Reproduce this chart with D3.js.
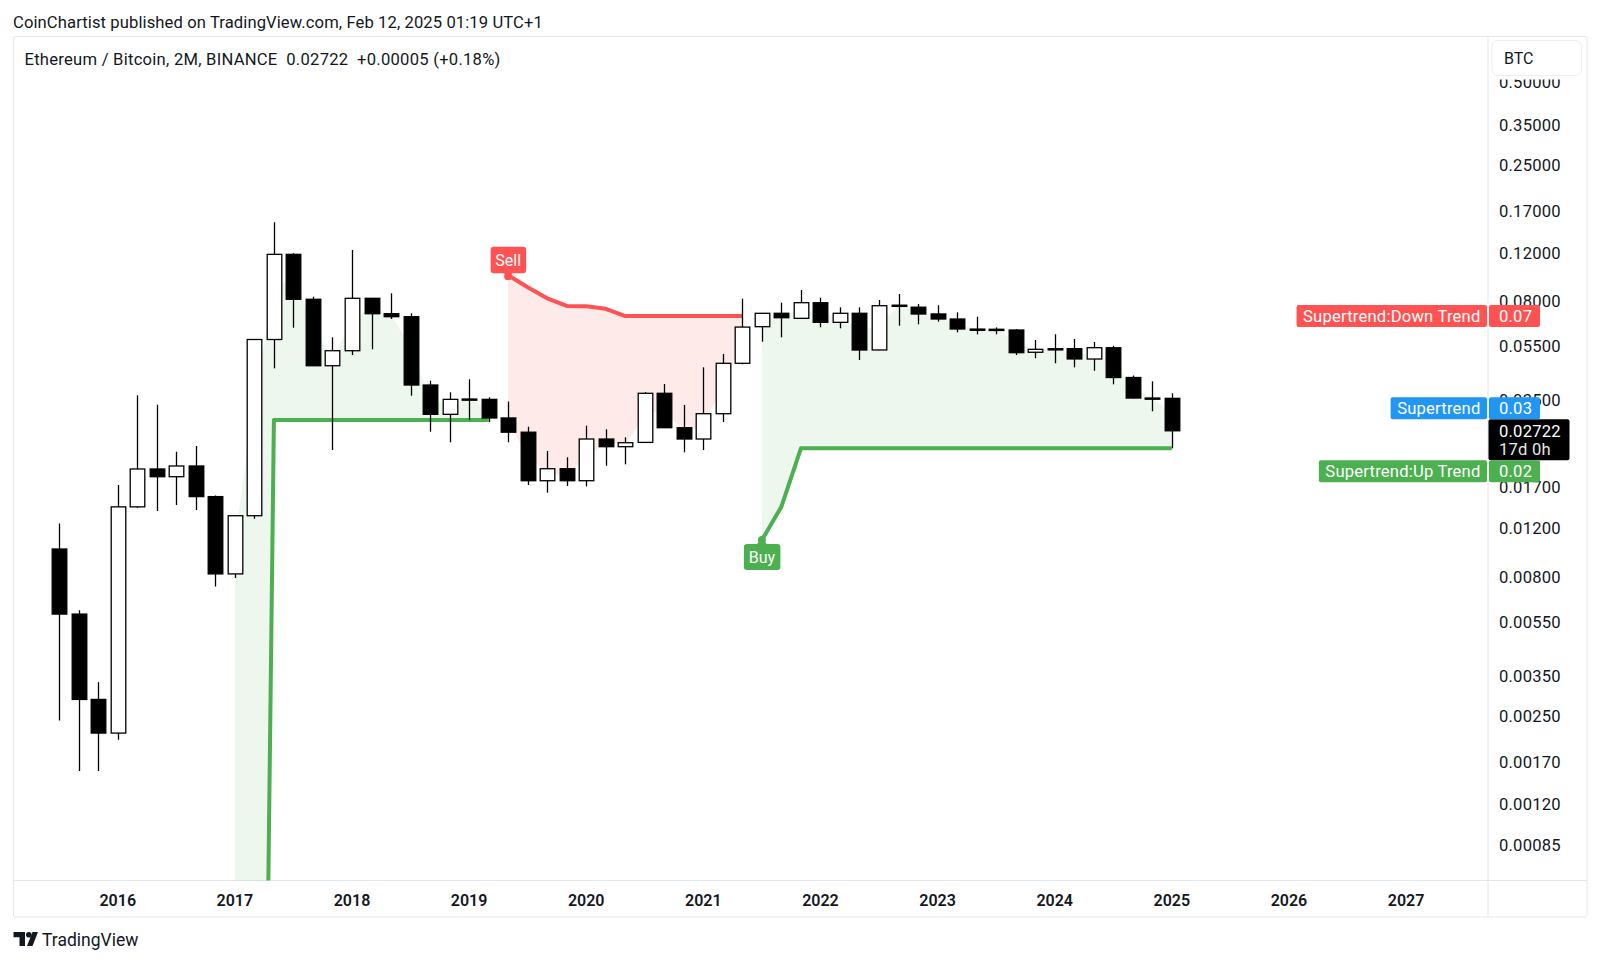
<!DOCTYPE html>
<html><head><meta charset="utf-8">
<script src="https://cdn.jsdelivr.net/npm/d3@7"></script>
<style>
html,body{margin:0;padding:0;background:#fff;}
svg{display:block;font-family:Roboto,"Noto Sans",sans-serif;}
</style></head><body>
<svg id="chart" width="1600" height="963"></svg>
<script>
// ---------- DATA (ETH/BTC 2M bars) ----------
const months = [
 "2015-07","2015-09","2015-11",
 "2016-01","2016-03","2016-05","2016-07","2016-09","2016-11",
 "2017-01","2017-03","2017-05","2017-07","2017-09","2017-11",
 "2018-01","2018-03","2018-05","2018-07","2018-09","2018-11",
 "2019-01","2019-03","2019-05","2019-07","2019-09","2019-11",
 "2020-01","2020-03","2020-05","2020-07","2020-09","2020-11",
 "2021-01","2021-03","2021-05","2021-07","2021-09","2021-11",
 "2022-01","2022-03","2022-05","2022-07","2022-09","2022-11",
 "2023-01","2023-03","2023-05","2023-07","2023-09","2023-11",
 "2024-01","2024-03","2024-05","2024-07","2024-09","2024-11",
 "2025-01"];
const opens = [0.01013,0.005879,0.00288,
 0.002174,0.01441,0.01978,0.01854,0.02028,0.0157,
 0.008227,0.01338,0.05839,0.1190,0.08173,0.04689,
 0.05316,0.08241,0.07244,0.07065,0.03991,0.03124,
 0.0354,0.0354,0.0303,0.0269,0.01793,0.01982,
 0.01793,0.02541,0.02383,0.0247,0.03724,0.02793,
 0.02541,0.0314,0.04786,0.065,0.0727,0.0697,
 0.0794,0.0674,0.0727,0.0535,0.0775,0.0765,
 0.0723,0.0693,0.0637,0.0636,0.06321,0.05248,
 0.0538,0.0541,0.0496,0.0545,0.0425,0.0358,
 0.0357];
const highs = [0.01255,0.006067,0.003327,
 0.01729,0.03665,0.03386,0.02284,0.02395,0.01586,
 0.0134,0.0585,0.1555,0.1201,0.08351,0.05948,
 0.1234,0.0826,0.08593,0.07269,0.04137,0.03755,
 0.04186,0.036,0.03476,0.02816,0.02299,0.02182,
 0.0284,0.02756,0.02577,0.0376,0.04025,0.03378,
 0.04627,0.05171,0.08213,0.0728,0.07943,0.08833,
 0.08283,0.07642,0.0764,0.08124,0.08542,0.07856,
 0.0778,0.07329,0.07065,0.0646,0.0637,0.05815,
 0.061,0.05863,0.05719,0.05543,0.04321,0.04117,
 0.03724];
const lows = [0.002415,0.001583,0.001583,
 0.002058,0.0143,0.01391,0.01463,0.01404,0.007404,
 0.007943,0.01304,0.04588,0.06445,0.0468,0.02318,
 0.05129,0.05379,0.0693,0.0365,0.02701,0.02472,
 0.02979,0.0293,0.02472,0.0173,0.01622,0.01716,
 0.0171,0.02033,0.02057,0.0246,0.0279,0.02274,
 0.02318,0.0293,0.04746,0.05734,0.05948,0.0693,
 0.06467,0.06412,0.0492,0.0534,0.06554,0.06632,
 0.06776,0.062,0.06097,0.061,0.05129,0.04991,
 0.04786,0.04627,0.04497,0.04014,0.0357,0.03204,
 0.02351];
const closes = [0.005879,0.00288,0.002174,
 0.01441,0.01978,0.01854,0.02028,0.0157,0.008227,
 0.01338,0.05839,0.1190,0.08173,0.04689,0.05316,
 0.08241,0.07244,0.07065,0.03991,0.03124,0.0354,
 0.0355,0.0303,0.0269,0.01793,0.01982,0.01793,
 0.02541,0.02383,0.02464,0.03724,0.02793,0.02541,
 0.0314,0.04786,0.06478,0.07269,0.07006,0.07943,
 0.06742,0.0727,0.05348,0.07745,0.0778,0.07226,
 0.0693,0.06374,0.0636,0.0635,0.0523,0.05379,
 0.05406,0.04962,0.05452,0.04249,0.03579,0.0357,
 0.02722];
// Supertrend lines (null = not active); the first up-trend starts far below the visible scale
const upTrend = [null,null,null,
 null,null,null,null,null,null,
 0.00000004,0.00000004,0.0298,0.0298,0.0298,0.0298,
 0.0298,0.0298,0.0298,0.0298,0.0298,0.0298,
 0.0298,0.0298,null,null,null,null,
 null,null,null,null,null,null,
 null,null,null,0.01092,0.01443,0.0235,
 0.0235,0.0235,0.0235,0.0235,0.0235,0.0235,
 0.0235,0.0235,0.0235,0.0235,0.0235,0.0235,
 0.0235,0.0235,0.0235,0.0235,0.0235,0.0235,
 0.0235];
const downTrend = [null,null,null,
 null,null,null,null,null,null,
 null,null,null,null,null,null,
 null,null,null,null,null,null,
 null,null,0.1,0.0904,0.0824,0.0773,
 0.0771,0.0755,0.0710,0.0710,0.0710,0.0710,
 0.0710,0.0710,0.0710,null,null,null,
 null,null,null,null,null,null,
 null,null,null,null,null,null,
 null,null,null,null,null,null,
 null];
const yTickValues = [0.5,0.35,0.25,0.17,0.12,0.08,0.055,0.035,0.017,0.012,0.008,0.0055,0.0035,0.0025,0.0017,0.0012,0.00085];
const yearLabels = ["2016","2017","2018","2019","2020","2021","2022","2023","2024","2025","2026","2027"];
const headerText = "CoinChartist published on TradingView.com, Feb 12, 2025 01:19 UTC+1";
const legendText = "Ethereum / Bitcoin, 2M, BINANCE  0.02722  +0.00005 (+0.18%)";
const countdown = "17d 0h";

// ---------- LAYOUT ----------
const paneL = 13.5, paneR = 1488, paneT = 37, paneB = 880.5, outerR = 1587, outerB = 917;
const GREEN = "#4caf50", RED = "#ff5252", BLUE = "#2196f3", INK = "#131722";

const svg = d3.select("#chart");
const x = d3.scaleLinear().domain([0, months.length - 1]).range([59.2, 1171.8]);
const y = d3.scaleLog().domain([0.5, 0.00085]).range([82.65, 845.4]);

const data = months.map((m, i) => ({i, m, o: opens[i], h: highs[i], l: lows[i], c: closes[i],
  up: upTrend[i], dn: downTrend[i], mid: (opens[i] + closes[i]) / 2}));

// header
svg.append("text").attr("x", 13).attr("y", 22.5).attr("dominant-baseline", "central")
  .attr("font-size", 16.6).attr("letter-spacing", 0.1).attr("fill", INK).text(headerText);

// frame
const frame = svg.append("g").attr("fill", "none").attr("stroke", "#e3e6ec").attr("stroke-width", 1);
frame.append("rect").attr("x", 13.5).attr("y", 36.5).attr("width", outerR - 13.5).attr("height", outerB - 36.5).attr("rx", 2);
frame.append("line").attr("x1", 13.5).attr("x2", outerR).attr("y1", paneB).attr("y2", paneB);
frame.append("line").attr("x1", paneR).attr("x2", paneR).attr("y1", 36.5).attr("y2", outerB);

// clip
svg.append("defs").append("clipPath").attr("id", "pane").append("rect")
  .attr("x", paneL).attr("y", paneT).attr("width", paneR - paneL).attr("height", paneB - paneT);
const plot = svg.append("g").attr("clip-path", "url(#pane)");

// fills between trend line and body middle
const upArea = d3.area().defined(d => d.up != null).x(d => x(d.i)).y0(d => y(d.up)).y1(d => y(d.mid));
const dnArea = d3.area().defined(d => d.dn != null).x(d => x(d.i)).y0(d => y(d.dn)).y1(d => y(d.mid));
plot.append("path").attr("d", upArea(data)).attr("fill", GREEN).attr("fill-opacity", 0.1);
plot.append("path").attr("d", dnArea(data)).attr("fill", RED).attr("fill-opacity", 0.12);

// trend lines
const upLine = d3.line().defined(d => d.up != null).x(d => x(d.i)).y(d => y(d.up));
const dnLine = d3.line().defined(d => d.dn != null).x(d => x(d.i)).y(d => y(d.dn));
plot.append("path").attr("d", upLine(data)).attr("fill", "none").attr("stroke", GREEN)
  .attr("stroke-width", 4).attr("stroke-linejoin", "round");
plot.append("path").attr("d", dnLine(data)).attr("fill", "none").attr("stroke", RED)
  .attr("stroke-width", 4).attr("stroke-linejoin", "round");

// candles
const bw = 14.6;
const cg = plot.append("g");
data.forEach(d => {
  const cx = Math.round(x(d.i)) + 0.5;
  cg.append("line").attr("x1", cx).attr("x2", cx).attr("y1", y(d.h)).attr("y2", y(d.l))
    .attr("stroke", "#000").attr("stroke-width", 1.3);
  const top = y(Math.max(d.o, d.c)), bot = y(Math.min(d.o, d.c));
  cg.append("rect").attr("x", cx - bw / 2).attr("y", top).attr("width", bw)
    .attr("height", Math.max(bot - top, 1.2))
    .attr("fill", d.c >= d.o ? "#fff" : "#000").attr("stroke", "#000").attr("stroke-width", 1.3);
});

// buy / sell signals at trend changes
const sig = plot.append("g").attr("font-size", 16);
data.forEach((d, k) => {
  if (k === 0) return;
  const p = data[k - 1];
  if (d.up != null && p.dn != null) {            // Buy
    const px = x(d.i), py = y(d.up);
    sig.append("circle").attr("cx", px).attr("cy", py).attr("r", 4).attr("fill", GREEN);
    sig.append("path").attr("d", `M${px-5},${py+4} L${px},${py-1} L${px+5},${py+4} Z`).attr("fill", GREEN);
    sig.append("rect").attr("x", px - 18).attr("y", py + 4).attr("width", 36.5).attr("height", 26).attr("rx", 3).attr("fill", GREEN);
    sig.append("text").attr("x", px).attr("y", py + 17.5).attr("text-anchor", "middle")
      .attr("dominant-baseline", "central").attr("fill", "#fff").text("Buy");
  }
  if (d.dn != null && p.up != null) {            // Sell
    const px = x(d.i), py = y(d.dn);
    sig.append("circle").attr("cx", px).attr("cy", py + 1).attr("r", 4).attr("fill", RED);
    sig.append("path").attr("d", `M${px-5},${py-3} L${px},${py+2} L${px+5},${py-3} Z`).attr("fill", RED);
    sig.append("rect").attr("x", px - 17.5).attr("y", py - 28.5).attr("width", 35.5).attr("height", 26.5).attr("rx", 3).attr("fill", RED);
    sig.append("text").attr("x", px).attr("y", py - 15).attr("text-anchor", "middle")
      .attr("dominant-baseline", "central").attr("fill", "#fff").text("Sell");
  }
});

// legend
svg.append("text").attr("x", 24.5).attr("y", 59).attr("dominant-baseline", "central")
  .attr("font-size", 16.6).attr("letter-spacing", 0.25).attr("fill", INK).style("white-space", "pre").text(legendText);

// price axis labels
const fmt5 = d3.format(".5f");
const ax = svg.append("g").attr("font-size", 16.6).attr("letter-spacing", 0.2).attr("fill", INK);
yTickValues.forEach(v => {
  ax.append("text").attr("x", 1499).attr("y", y(v)).attr("dominant-baseline", "central").text(fmt5(v));
});
// currency button (hides the top of the first label)
svg.append("rect").attr("x", 1489).attr("y", 37.5).attr("width", 97).attr("height", 42).attr("fill", "#fff");
svg.append("rect").attr("x", 1492).attr("y", 40.5).attr("width", 89.5).attr("height", 35).attr("rx", 6)
  .attr("fill", "#fff").attr("stroke", "#eceef2");
svg.append("text").attr("x", 1504).attr("y", 58).attr("dominant-baseline", "central")
  .attr("font-size", 16).attr("fill", INK).text("BTC");

// time axis
const tx = svg.append("g").attr("font-size", 16).attr("font-weight", 600).attr("fill", INK).attr("text-anchor", "middle");
yearLabels.forEach(yr => {
  const idx = months.indexOf(yr + "-01");
  const pos = idx >= 0 ? x(idx) : x(months.length - 1) + (x(6) - x(0)) * (+yr - 2025);
  tx.append("text").attr("x", pos).attr("y", 900).attr("dominant-baseline", "central").text(yr);
});

// last price box
const last = data[data.length - 1];
const pY = y(last.c);
const priceTop = pY - 11.5, priceBot = pY + 29.5;
svg.append("rect").attr("x", 1488.5).attr("y", priceTop).attr("width", 81).attr("height", priceBot - priceTop).attr("rx", 2).attr("fill", "#000");
svg.append("text").attr("x", 1499).attr("y", pY + 0.5).attr("dominant-baseline", "central").attr("font-size", 16.6).attr("letter-spacing", 0.2).attr("fill", "#fff").text(d3.format(".5f")(last.c));
svg.append("text").attr("x", 1499).attr("y", pY + 18.5).attr("dominant-baseline", "central").attr("font-size", 16.6).attr("letter-spacing", 0.2).attr("fill", "#e8e8e8").text(countdown);

// indicator labels on the price scale
const fmt2 = d3.format(".2f");
function scaleLabel(yc, name, value, color) {
  const g = svg.append("g").attr("font-size", 16.6).attr("letter-spacing", 0.2);
  const t = g.append("text").attr("x", 0).attr("y", yc).attr("dominant-baseline", "central").attr("fill", "#fff").text(name);
  const w = t.node().getComputedTextLength();
  t.attr("x", 1487 - 6.5 - w);
  g.insert("rect", "text").attr("x", 1487 - w - 13).attr("y", yc - 11).attr("width", w + 13).attr("height", 22).attr("rx", 2).attr("fill", color);
  g.append("rect").attr("x", 1489).attr("y", yc - 11).attr("width", 51).attr("height", 22).attr("rx", 2).attr("fill", color);
  g.append("text").attr("x", 1499).attr("y", yc).attr("dominant-baseline", "central").attr("fill", "#fff").text(fmt2(value));
}
const lastDn = downTrend.filter(v => v != null).slice(-1)[0];
const lastUp = last.up;
scaleLabel(y(lastDn), "Supertrend:Down Trend", lastDn, RED);
scaleLabel(Math.min(y(last.mid), priceTop - 11), "Supertrend", last.mid, BLUE);
scaleLabel(Math.max(y(lastUp), priceBot + 11), "Supertrend:Up Trend", lastUp, GREEN);

// TradingView footer logo
const logo = svg.append("g").attr("fill", "#131722");
logo.append("path").attr("d", "M13.5,932 H25 V946 H19.5 V937.2 H13.5 Z");
logo.append("circle").attr("cx", 28.8).attr("cy", 934.8).attr("r", 2.8);
logo.append("path").attr("d", "M32.5,932 H38 L32.5,946 H27 Z");
svg.append("text").attr("x", 42).attr("y", 939.5).attr("dominant-baseline", "central")
  .attr("font-size", 17.5).attr("fill", INK).text("TradingView");
</script>
</body></html>
